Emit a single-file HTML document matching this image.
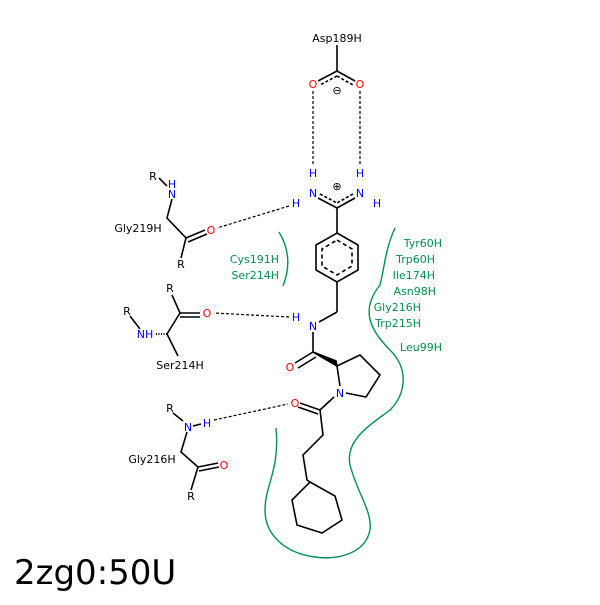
<!DOCTYPE html>
<html><head><meta charset="utf-8"><style>
body{margin:0;background:#fff}
svg text{font-family:"DejaVu Sans","Liberation Sans",sans-serif;font-size:11px}
</style></head><body>
<svg width="600" height="600" viewBox="0 0 600 600" xmlns="http://www.w3.org/2000/svg">
<rect width="600" height="600" fill="#fff"/>
<g stroke="#000" stroke-width="1.6" fill="none">
<line x1="337" y1="45" x2="337" y2="71"/>
<line x1="337" y1="71" x2="318" y2="81"/><line x1="337" y1="71" x2="355" y2="81"/>
<line x1="337" y1="76" x2="320" y2="85" stroke-dasharray="3,2"/><line x1="337" y1="76" x2="353" y2="85" stroke-dasharray="3,2"/>
<line x1="318" y1="198" x2="337" y2="208"/><line x1="355" y1="198" x2="337" y2="208"/>
<line x1="320" y1="194" x2="337" y2="203" stroke-dasharray="3,2"/><line x1="353" y1="194" x2="337" y2="203" stroke-dasharray="3,2"/>
<line x1="337" y1="208" x2="337" y2="233"/>
<polygon points="337,233 358,245 358,270 337,282 316,270 316,245"/>
<polygon points="337,240 352,249 352,266 337,275 322,266 322,249" stroke-dasharray="4,3"/>
<line x1="337" y1="282" x2="337" y2="312"/><line x1="337" y1="312" x2="319" y2="322"/>
<line x1="313" y1="332" x2="313" y2="352"/>
<line x1="313" y1="352" x2="295" y2="363"/><line x1="316" y1="357" x2="298" y2="368"/>
<polygon points="313,352 337,366 336,361" fill="#000"/>
<polyline points="337,366 360,355 380,375 366,397 346,393"/>
<line x1="337" y1="366" x2="340" y2="386"/>
<line x1="334" y1="397" x2="320" y2="410"/>
<line x1="320" y1="410" x2="300" y2="403"/><line x1="318" y1="414" x2="298" y2="407"/>
<polyline points="320,410 323,435 303,455 307,480 310,482"/>
<polygon points="310,482 335,496 342,520 322,533 297,525 292,500"/>
<!-- Gly219 -->
<line x1="159" y1="178" x2="167" y2="186"/>
<polyline points="172,199 167,218 186,238 181,258"/>
<line x1="186" y1="238" x2="205" y2="230"/><line x1="188" y1="242" x2="207" y2="234"/>
<!-- Ser214 -->
<line x1="172" y1="295" x2="180" y2="313"/>
<line x1="180" y1="313" x2="200" y2="313"/><line x1="180" y1="317" x2="200" y2="317"/>
<line x1="180" y1="313" x2="167" y2="334"/><line x1="167" y1="334" x2="178" y2="356"/>
<line x1="167" y1="334" x2="156" y2="334" stroke-dasharray="1,1.5" stroke-width="2"/>
<line x1="130" y1="316" x2="140" y2="329"/>
<!-- Gly216 -->
<line x1="173" y1="413" x2="183" y2="421"/>
<line x1="193" y1="426" x2="201" y2="424"/>
<polyline points="187,432 181,452 198,467 191,490"/>
<line x1="198" y1="467" x2="218" y2="463"/><line x1="199" y1="471" x2="219" y2="467"/>
</g>
<g stroke="#000" stroke-width="1.2" stroke-dasharray="3,2" fill="none">
<line x1="313" y1="91" x2="313" y2="166"/><line x1="360" y1="91" x2="360" y2="166"/>
<line x1="289" y1="206" x2="217" y2="228"/>
<line x1="289" y1="317" x2="214" y2="313"/>
<line x1="214" y1="420" x2="288" y2="404"/>
</g>
<g fill="none" stroke="#00924c" stroke-width="1.4">
<path d="M279,232 C290,250 290,268 283,286"/>
<path d="M395,228 C385,250 385,265 380,285 C360,310 370,330 390,350 C410,370 405,395 390,410 C370,425 345,440 350,465 C358,495 372,510 370,530 C365,555 335,560 315,557 C285,553 265,535 265,510 C265,485 280,470 276,428"/>
</g>
<g text-anchor="middle">
<text x="337" y="42">Asp189H</text>
<text x="313" y="88" fill="#f00">O</text><text x="360" y="88" fill="#f00">O</text>
<text x="337" y="94" font-size="13">⊖</text>
<text x="313" y="177" fill="#00f">H</text><text x="360" y="177" fill="#00f">H</text>
<text x="313" y="197" fill="#00f">N</text><text x="360" y="197" fill="#00f">N</text>
<text x="337" y="190" font-size="13">⊕</text>
<text x="377" y="207" fill="#00f">H</text><text x="296" y="207" fill="#00f">H</text>
<text x="313" y="330" fill="#00f">N</text><text x="296" y="321" fill="#00f">H</text>
<text x="290" y="371" fill="#f00">O</text>
<text x="340" y="397" fill="#00f">N</text>
<text x="295" y="407" fill="#f00">O</text>
<text x="153" y="180">R</text><text x="172" y="188" fill="#00f">H</text><text x="172" y="198" fill="#00f">N</text>
<text x="138" y="232">Gly219H</text><text x="211" y="234" fill="#f00">O</text><text x="181" y="268">R</text>
<text x="170" y="292">R</text><text x="207" y="317" fill="#f00">O</text><text x="127" y="315">R</text>
<text x="145" y="338" fill="#00f">NH</text><text x="180" y="369">Ser214H</text>
<text x="170" y="412">R</text><text x="188" y="431" fill="#00f">N</text><text x="207" y="427" fill="#00f">H</text>
<text x="152" y="463">Gly216H</text><text x="224" y="469" fill="#f00">O</text><text x="191" y="500">R</text>
</g>
<g fill="#00924c" text-anchor="end">
<text x="279" y="263">Cys191H</text><text x="279" y="279">Ser214H</text>
<text x="442" y="247">Tyr60H</text><text x="435" y="263">Trp60H</text><text x="435" y="279">Ile174H</text>
<text x="436" y="295">Asn98H</text><text x="421" y="311">Gly216H</text><text x="421" y="327">Trp215H</text>
<text x="442" y="351">Leu99H</text>
</g>
<text x="14" y="584" style="font-size:34px">2zg0:50U</text>
</svg>
</body></html>
